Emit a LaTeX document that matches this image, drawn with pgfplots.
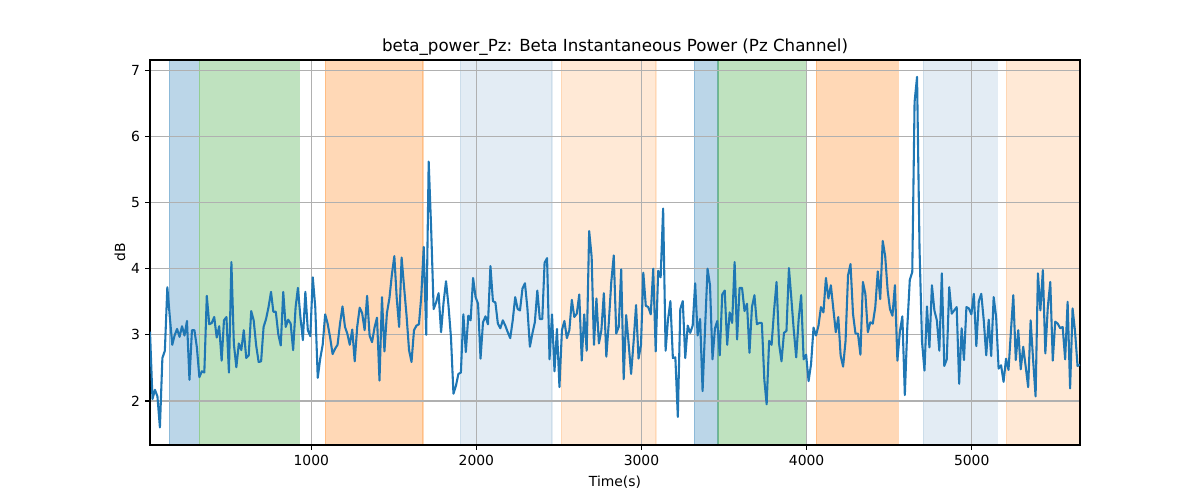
\documentclass[border=0pt]{standalone}
\usepackage{fontspec}
\setmainfont{DejaVu Sans}
\usepackage{pgfplots}
\pgfplotsset{compat=1.18}
\definecolor{tabblue}{HTML}{1F77B4}
\definecolor{taborange}{HTML}{FF7F0E}
\definecolor{tabgreen}{HTML}{2CA02C}
\definecolor{steel}{RGB}{70,130,180}
\definecolor{gridgray}{HTML}{B0B0B0}
\begin{document}
\begin{tikzpicture}
\begin{axis}[
  at={(0,0)}, anchor=south west,
  width=669.6pt, height=277.2pt, scale only axis,
  set layers,
  xmin=23, xmax=5656, ymin=1.335, ymax=7.155,
  xtick={1000,2000,3000,4000,5000}, ytick={2,3,4,5,6,7},
  grid=major, major grid style={gridgray, line width=0.8pt},
  axis line style={line width=0.8pt},
  tick style={black, line width=0.8pt},
  major tick length=3.5pt, tick align=outside, tick pos=left,
  /pgf/number format/assume math mode=true,
  /pgf/number format/1000 sep={},
  scaled x ticks=false,
  ticklabel style={font=\fontsize{10}{12}\selectfont},
  xticklabel style={anchor=north, inner sep=0pt, yshift=-3.5pt},
  yticklabel style={anchor=east, inner sep=0pt, xshift=-3.5pt},
  title={beta\_power\_Pz: Beta Instantaneous Power (Pz Channel)},
  title style={font=\fontsize{12}{14}\selectfont, at={(axis description cs:0.5,1.0)}, anchor=base, inner sep=0pt},
  xlabel={Time(s)},
  xlabel style={font=\fontsize{10}{12}\selectfont, at={(axis description cs:0.5,-0.1082)}, anchor=base, inner sep=0pt},
  ylabel={dB},
  ylabel style={font=\fontsize{10}{12}\selectfont, at={(axis description cs:-0.03226,0.5)}, anchor=center, inner sep=0pt},
]
% shaded spans
\addplot[on layer=axis background, fill=tabblue, fill opacity=0.3, draw=tabblue, draw opacity=0.3, line width=1pt] coordinates {(140,1.335) (140,7.155) (316,7.155) (316,1.335)} -- cycle;
\addplot[on layer=axis background, fill=tabgreen, fill opacity=0.3, draw=tabgreen, draw opacity=0.3, line width=1pt] coordinates {(322,1.335) (322,7.155) (927,7.155) (927,1.335)} -- cycle;
\addplot[on layer=axis background, fill=taborange, fill opacity=0.3, draw=taborange, draw opacity=0.3, line width=1pt] coordinates {(1085,1.335) (1085,7.155) (1677,7.155) (1677,1.335)} -- cycle;
\addplot[on layer=axis background, fill=steel, fill opacity=0.15, draw=steel, draw opacity=0.15, line width=1pt] coordinates {(1902,1.335) (1902,7.155) (2459,7.155) (2459,1.335)} -- cycle;
\addplot[on layer=axis background, fill=taborange, fill opacity=0.17, draw=taborange, draw opacity=0.17, line width=1pt] coordinates {(2514,1.335) (2514,7.155) (3088,7.155) (3088,1.335)} -- cycle;
\addplot[on layer=axis background, fill=tabblue, fill opacity=0.3, draw=tabblue, draw opacity=0.3, line width=1pt] coordinates {(3320,1.335) (3320,7.155) (3463,7.155) (3463,1.335)} -- cycle;
\addplot[on layer=axis background, fill=tabgreen, fill opacity=0.3, draw=tabgreen, draw opacity=0.3, line width=1pt] coordinates {(3463,1.335) (3463,7.155) (4000,7.155) (4000,1.335)} -- cycle;
\addplot[on layer=axis background, fill=taborange, fill opacity=0.3, draw=taborange, draw opacity=0.3, line width=1pt] coordinates {(4059,1.335) (4059,7.155) (4556,7.155) (4556,1.335)} -- cycle;
\addplot[on layer=axis background, fill=steel, fill opacity=0.15, draw=steel, draw opacity=0.15, line width=1pt] coordinates {(4707,1.335) (4707,7.155) (5155,7.155) (5155,1.335)} -- cycle;
\addplot[on layer=axis background, fill=taborange, fill opacity=0.17, draw=taborange, draw opacity=0.17, line width=1pt] coordinates {(5209,1.335) (5209,7.155) (5656,7.155) (5656,1.335)} -- cycle;
% signal
\addplot[tabblue, line width=1.5pt, mark=none, line join=round] coordinates {
(23,3.05) (38,2.03) (53,2.17) (68,2.07) (83,1.60) (98,2.65) (113,2.76) (128,3.72) (143,3.27) (158,2.85)
(172,2.99) (187,3.09) (202,2.97) (217,3.13) (232,2.99) (247,3.21) (262,2.32) (277,3.07) (292,3.07) (307,2.81)
(322,2.36) (337,2.45) (352,2.43) (367,3.59) (382,3.16) (397,3.18) (412,3.27) (427,2.96) (442,3.13) (457,2.61)
(471,3.22) (486,3.27) (501,2.43) (516,4.10) (531,2.86) (546,2.51) (561,2.87) (576,2.77) (591,3.07) (606,2.65)
(621,2.69) (636,3.36) (651,3.22) (666,2.84) (681,2.59) (696,2.60) (711,3.12) (726,3.24) (741,3.42) (756,3.65)
(770,3.35) (785,3.35) (800,3.01) (815,2.84) (830,3.65) (845,3.12) (860,3.23) (875,3.17) (890,2.77) (905,3.42)
(919,3.71) (934,3.27) (949,2.92) (964,3.65) (979,3.07) (994,2.98) (1009,3.87) (1024,3.42) (1039,2.35) (1054,2.64)
(1069,2.85) (1084,3.31) (1099,3.17) (1114,2.96) (1129,2.71) (1144,2.79) (1159,2.85) (1174,3.17) (1189,3.43) (1204,3.12)
(1218,3.02) (1233,2.85) (1248,3.08) (1263,2.60) (1278,3.12) (1293,3.41) (1308,3.33) (1323,3.07) (1338,3.59) (1353,2.99)
(1368,2.89) (1383,3.11) (1398,3.26) (1413,2.31) (1428,3.57) (1443,2.75) (1458,3.33) (1473,3.55) (1488,3.91) (1503,4.19)
(1517,3.57) (1532,3.12) (1547,4.17) (1562,3.72) (1577,3.29) (1592,2.77) (1607,2.59) (1622,3.07) (1637,3.14) (1652,3.16)
(1666,3.58) (1681,4.33) (1696,3.00) (1711,5.62) (1726,4.60) (1741,3.39) (1756,3.49) (1771,3.63) (1786,3.04) (1801,3.49)
(1816,3.81) (1831,3.44) (1846,2.96) (1861,2.11) (1876,2.23) (1891,2.41) (1906,2.43) (1921,3.31) (1936,2.74) (1951,3.29)
(1965,3.22) (1980,3.86) (1995,3.57) (2010,3.47) (2025,2.64) (2040,3.19) (2055,3.28) (2070,3.16) (2085,4.04) (2100,3.51)
(2115,3.49) (2130,3.17) (2145,3.10) (2160,3.22) (2175,3.14) (2190,3.04) (2205,2.95) (2220,3.22) (2235,3.57) (2250,3.39)
(2264,3.37) (2279,3.70) (2294,3.78) (2309,3.40) (2324,2.82) (2339,3.02) (2354,3.19) (2369,3.67) (2384,3.24) (2399,3.24)
(2413,4.09) (2428,4.16) (2443,2.63) (2458,3.31) (2473,2.45) (2488,3.09) (2503,2.21) (2518,3.07) (2533,3.21) (2548,2.95)
(2563,3.07) (2578,3.53) (2593,3.27) (2608,3.32) (2623,3.61) (2638,2.61) (2653,3.31) (2668,2.76) (2683,4.57) (2698,4.18)
(2712,2.85) (2727,3.55) (2742,2.87) (2757,3.07) (2772,3.63) (2787,2.67) (2802,3.19) (2817,3.80) (2832,4.20) (2847,3.02)
(2862,3.12) (2877,3.99) (2892,2.33) (2907,3.30) (2922,2.87) (2937,2.41) (2952,2.89) (2967,3.45) (2982,2.64) (2997,2.85)
(3011,3.94) (3026,3.44) (3041,3.42) (3056,3.31) (3071,4.00) (3086,2.75) (3101,3.97) (3116,3.87) (3131,4.91) (3146,2.76)
(3160,3.22) (3175,3.51) (3190,2.65) (3205,2.66) (3220,1.76) (3235,3.39) (3250,3.51) (3265,2.65) (3280,3.14) (3295,3.03)
(3310,3.14) (3325,3.78) (3340,2.99) (3355,3.24) (3370,2.15) (3385,3.10) (3400,4.00) (3415,3.75) (3430,2.63) (3445,3.10)
(3459,3.21) (3474,2.69) (3489,3.61) (3504,3.67) (3519,2.85) (3534,3.34) (3549,3.18) (3564,4.10) (3579,2.93) (3594,3.71)
(3609,3.71) (3624,3.36) (3639,3.47) (3654,2.73) (3669,3.42) (3684,3.60) (3699,3.16) (3714,3.18) (3729,3.18) (3744,2.32)
(3758,1.95) (3773,2.91) (3788,2.85) (3803,3.37) (3818,3.80) (3833,2.87) (3848,2.60) (3863,3.03) (3878,3.06) (3893,4.01)
(3907,3.57) (3922,3.08) (3937,2.66) (3952,3.24) (3967,3.60) (3982,2.63) (3997,2.70) (4012,2.30) (4027,2.56) (4042,3.11)
(4057,2.99) (4072,3.14) (4087,3.42) (4102,3.34) (4117,3.86) (4132,3.55) (4147,3.75) (4162,3.39) (4177,3.04) (4192,3.27)
(4206,2.69) (4221,2.52) (4236,2.91) (4251,3.90) (4266,4.07) (4281,3.32) (4296,3.02) (4311,3.02) (4326,2.70) (4341,3.80)
(4356,3.62) (4371,3.04) (4386,3.19) (4401,3.17) (4416,3.42) (4431,3.96) (4446,3.54) (4461,4.42) (4476,4.19) (4491,3.67)
(4505,3.39) (4520,3.29) (4535,3.75) (4550,2.61) (4565,3.05) (4580,3.28) (4595,2.09) (4610,3.12) (4625,3.83) (4640,3.95)
(4654,6.52) (4669,6.90) (4684,4.30) (4699,2.90) (4714,2.46) (4729,3.43) (4744,2.81) (4759,3.75) (4774,3.37) (4789,3.22)
(4804,2.76) (4819,3.93) (4834,2.53) (4849,2.63) (4864,3.72) (4879,3.32) (4894,3.37) (4909,3.42) (4924,2.26) (4939,3.10)
(4953,2.62) (4968,3.42) (4983,3.40) (4998,3.31) (5013,3.62) (5028,2.83) (5043,3.51) (5058,3.62) (5073,3.22) (5088,2.69)
(5103,3.23) (5118,2.68) (5133,3.57) (5148,3.27) (5163,2.49) (5178,2.54) (5193,2.29) (5208,2.64) (5223,2.47) (5238,3.07)
(5252,3.60) (5267,2.62) (5282,3.07) (5297,2.48) (5312,2.82) (5327,2.52) (5342,2.21) (5357,3.22) (5372,2.62) (5387,2.07)
(5401,3.93) (5416,3.37) (5431,3.98) (5446,2.72) (5461,3.42) (5476,3.80) (5491,2.61) (5506,3.20) (5521,3.17) (5536,3.10)
(5551,3.12) (5566,2.63) (5581,3.50) (5596,2.19) (5611,3.40) (5626,3.05) (5641,2.53) (5656,2.55)
};
\end{axis}
\pgfresetboundingbox
\useasboundingbox (-108pt,-39.6pt) rectangle (756pt,320.4pt);
\end{tikzpicture}
\end{document}
